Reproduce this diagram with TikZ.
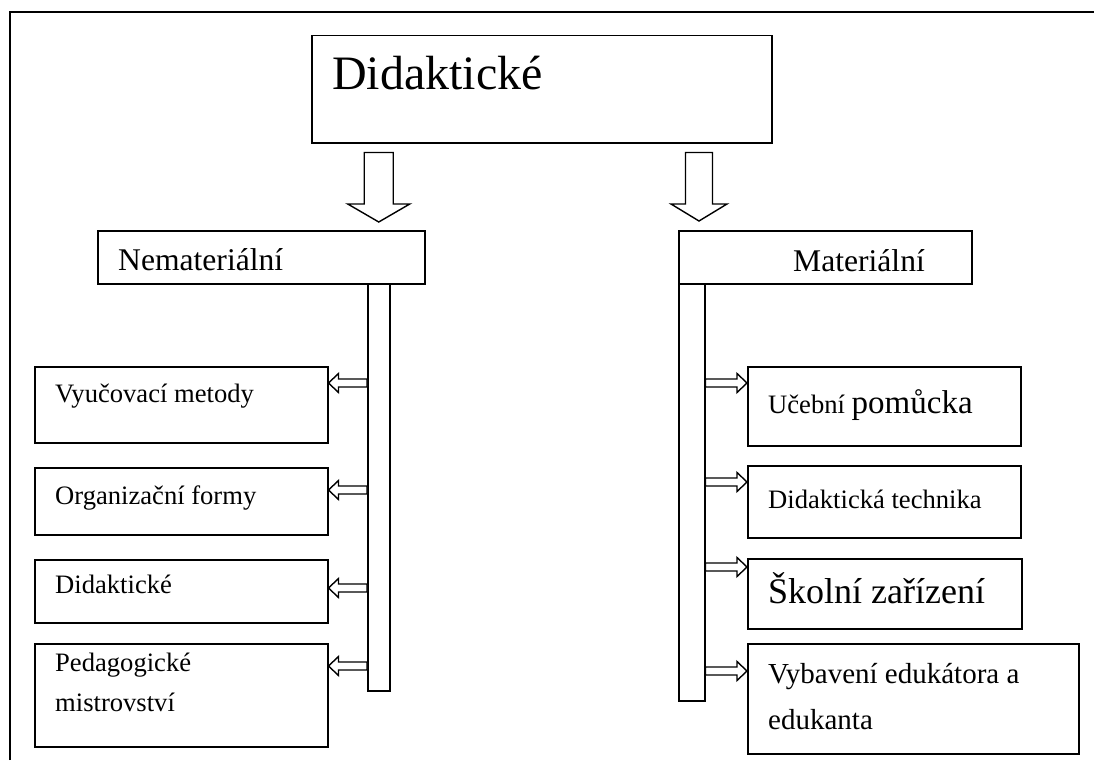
\documentclass[tikz,border=0pt]{standalone}
\usepackage{fontspec}
\setmainfont{Liberation Serif}
\usetikzlibrary{calc, positioning}

% block arrow: tail, tip, shaft half width, head half width, head length
\newcommand{\blockarr}[5]{%
  \path ($(#2)!#5!(#1)$) coordinate (hb);
  \draw[blockarrow] ($(#1)!#3!90:(#2)$) -- ($(hb)!#3!-90:(#1)$) -- ($(hb)!#4!-90:(#1)$) -- (#2)
    -- ($(hb)!#4!90:(#1)$) -- ($(hb)!#3!90:(#1)$) -- ($(#1)!#3!-90:(#2)$) -- cycle;
}

\begin{document}
\begin{tikzpicture}[
        x=1pt, y=-1pt,
        box/.style={rectangle, draw=black, line width=1.5pt, anchor=north west, inner sep=0pt},
        bar/.style={rectangle, draw=black, line width=1.5pt, anchor=north west, inner sep=0pt, fill=white},
        lbl/.style={anchor=base west, inner sep=0pt, align=left, font=\fontsize{26.6pt}{40pt}\selectfont},
        head/.style={lbl, font=\fontsize{31.6pt}{36pt}\selectfont},
        blockarrow/.style={draw=black, line width=1.4pt, fill=white, line join=miter}
    ]
    \useasboundingbox (0,0) rectangle (1094,760);
    \draw[line width=1.7pt] (10,760) -- (10,12) -- (1094,12);

    % Nodes
    \node (top) [box, minimum width=460pt, minimum height=107pt] at (311,35) {};
    \node (topT) [lbl, font=\fontsize{48pt}{52pt}\selectfont] at (332,89) {Didaktické};

    \node (nem) [box, minimum width=327pt, minimum height=53pt] at (97,230) {};
    \node (nemT) [head] at (118,270) {Nemateriální};
    \node (mat) [box, minimum width=293pt, minimum height=53pt] at (678,230) {};
    \node (matT) [head] at (793,271) {Materiální};

    \node (nbar) [bar, minimum width=22pt, minimum height=407pt] at (367,283) {};
    \node (mbar) [bar, minimum width=26pt, minimum height=417pt] at (678,283) {};

    \node (vyuka) [box, minimum width=293pt, minimum height=76pt] at (34,366) {};
    \node (vyukaT) [lbl] at (55,402) {Vyučovací metody};
    \node (forma) [box, minimum width=293pt, minimum height=67pt] at (34,467) {};
    \node (formaT) [lbl] at (55,504) {Organizační formy};
    \node (prostr) [box, minimum width=293pt, minimum height=63pt] at (34,559) {};
    \node (prostrT) [lbl] at (55,593) {Didaktické};
    \node (mistr) [box, minimum width=293pt, minimum height=103pt] at (34,643) {};
    \node (mistrT) [lbl] at (55,711) {Pedagogické\\mistrovství};

    \node (pomucka) [box, minimum width=273pt, minimum height=79pt] at (747,366) {};
    \node (pomuckaT) [lbl] at (768,413) {Učební {\fontsize{33pt}{36pt}\selectfont pomůcka}};
    \node (technika) [box, minimum width=273pt, minimum height=72pt] at (747,465) {};
    \node (technikaT) [lbl] at (768,508) {Didaktická technika};
    \node (zarizeni) [box, minimum width=274pt, minimum height=70pt] at (747,558) {};
    \node (zarizeniT) [lbl, font=\fontsize{36pt}{40pt}\selectfont] at (768,603) {Školní zařízení};
    \node (vybaveni) [box, minimum width=331pt, minimum height=110pt] at (747,643) {};
    \node (vybaveniT) [lbl, font=\fontsize{29pt}{46pt}\selectfont] at (768,729) {Vybavení edukátora a\\edukanta};

    % Arrows
    \path (top.south -| nbar.center) ++(0,9) coordinate (bt1);
    \path (nem.north -| nbar.center) ++(0,-8) coordinate (bh1);
    \blockarr{bt1}{bh1}{14.5pt}{31pt}{18pt}
    \path (top.south -| mat.north west) ++(21,9) coordinate (bt2);
    \path (mat.north west) ++(21,-9) coordinate (bh2);
    \blockarr{bt2}{bh2}{13.5pt}{28pt}{17pt}

    \foreach \b/\d in {vyuka/17, forma/23, prostr/29, mistr/23} {
        \coordinate (tip) at ([yshift=-\d pt]\b.north east);
        \coordinate (tail) at (nbar.west |- tip);
        \blockarr{tail}{tip}{4pt}{9.5pt}{10pt}
    }
    \foreach \b/\d in {pomucka/17, technika/17, zarizeni/9, vybaveni/28} {
        \coordinate (tip) at ([yshift=-\d pt]\b.north west);
        \coordinate (tail) at (mbar.east |- tip);
        \blockarr{tail}{tip}{4pt}{9.5pt}{10pt}
    }
\end{tikzpicture}
\end{document}
